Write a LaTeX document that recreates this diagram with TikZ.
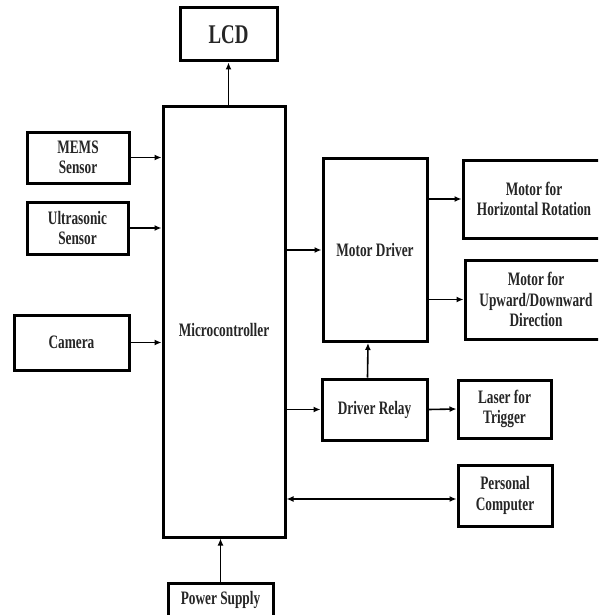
\documentclass[tikz,border=0pt]{standalone}
\usepackage{fontspec}
\setmainfont{Liberation Serif}[FakeStretch=0.7]
\usetikzlibrary{arrows.meta}
\tikzset{
  box/.style={draw=black, line width=3pt, fill=white, align=center, inner sep=0pt,
    font=\bfseries\fontsize{19}{20.5}\selectfont, text=black!85},
  arr/.style={line width=1.6pt, -{Latex[length=7pt,width=6pt]}},
  darr/.style={line width=1.6pt, {Latex[length=7pt,width=6pt]}-{Latex[length=7pt,width=6pt]}},
}
\begin{document}
\begin{tikzpicture}[x=1pt,y=-1pt]
\clip (0,0) rectangle (598,615);
\fill[white] (0,0) rectangle (598,615);
% boxes: center, width, height
\node[box, minimum width=97pt, minimum height=53pt, font=\bfseries\fontsize{27}{30}\selectfont] (lcd) at (228.5,34.5) {LCD};
\node[box, minimum width=122pt, minimum height=430pt] (mc) at (224,322) {};
\node[font=\bfseries\fontsize{19}{20.5}\selectfont, text=black!85] (mctext) at (224,330) {Microcontroller};
\node[box, minimum width=102pt, minimum height=51pt] (mems) at (78,157.5) {MEMS\\Sensor};
\node[box, minimum width=101pt, minimum height=52pt] (ultra) at (77.5,228) {Ultrasonic\\Sensor};
\node[box, minimum width=115pt, minimum height=55pt] (cam) at (71.5,342.5) {Camera};
\node[box, minimum width=105pt, minimum height=34pt] (ps) at (220.5,600) {Power Supply};
\node[box, minimum width=104pt, minimum height=183pt] (md) at (375,250) {Motor Driver};
\node[box, minimum width=142pt, minimum height=78pt] (mh) at (534,199) {Motor for\\Horizontal Rotation};
\node[box, minimum width=142pt, minimum height=79pt] (mud) at (536,299.5) {Motor for\\Upward/Downward\\Direction};
\node[box, minimum width=105pt, minimum height=61pt] (relay) at (374.5,409.5) {Driver Relay};
\node[box, minimum width=93pt, minimum height=58pt] (laser) at (504.5,409) {Laser for\\Trigger};
\node[box, minimum width=94pt, minimum height=61pt] (pc) at (505,495.5) {Personal\\Computer};
% connectors
\draw[arr] (mc.north -| lcd.south) -- (lcd.south);
\draw[arr] (mems.east) -- (mems.east -| mc.west);
\draw[arr] (ultra.east) -- (ultra.east -| mc.west);
\draw[arr] (cam.east) -- (cam.east -| mc.west);
\draw[arr] (ps.north) -- (ps.north |- mc.south);
\draw[arr] (md.west -| mc.east) -- (md.west);
\draw[arr] (mh.west -| md.east) -- (mh.west);
\draw[arr] (mud.west -| md.east) -- (mud.west);
\draw[arr] (relay.west -| mc.east) -- (relay.west);
\draw[arr] (relay.east) -- (laser.west);
\draw[arr] ([xshift=-7pt]relay.north) -- ([xshift=-7pt]md.south);
\draw[darr] ([yshift=-3.5pt]pc.west -| mc.east) -- ([yshift=-3.5pt]pc.west);
\end{tikzpicture}
\end{document}
